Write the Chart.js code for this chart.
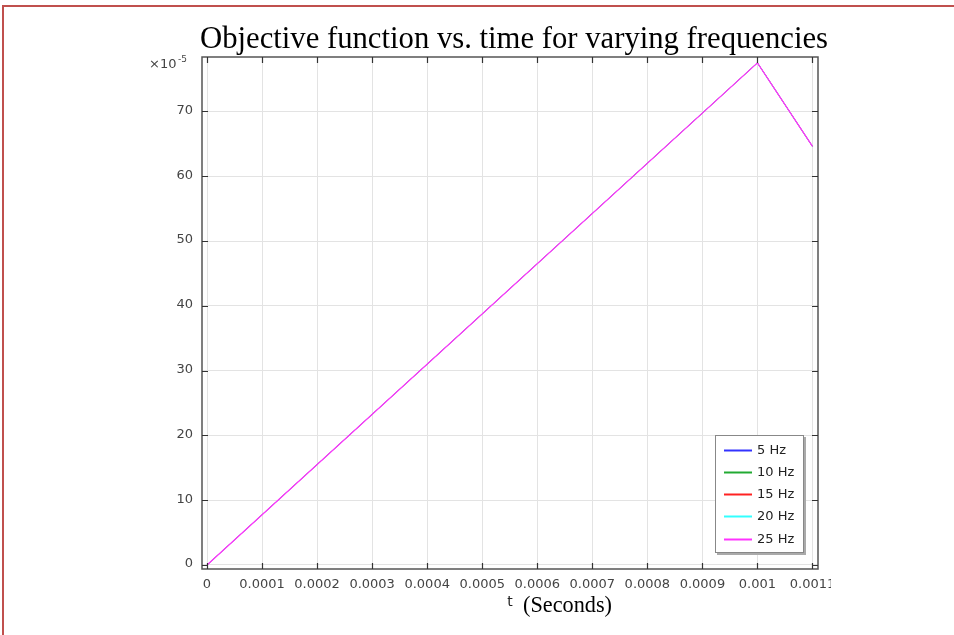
<!DOCTYPE html>
<html>
<head>
<meta charset="utf-8">
<script src="https://cdn.jsdelivr.net/npm/chart.js@4/dist/chart.umd.min.js"></script>
<style>
  html, body { margin: 0; padding: 0; background: #fff; }
  #wrap { position: relative; width: 954px; height: 635px; overflow: hidden; }
  #frame { position: absolute; left: 2px; top: 5px; width: 1200px; height: 1200px; border: 2px solid #C0504D; box-sizing: border-box; }
  canvas { position: absolute; left: 0; top: 0; }
</style>
</head>
<body>
<div id="wrap">
  <div id="frame"></div>
  <canvas id="c" width="954" height="635"></canvas>
</div>
<script>
// ---- data (values in units of 1e-5) ----
const times = [0, 0.001, 0.0011];
const f5Hz  = [0, 77.5, 64.6];
const f10Hz = [0, 77.5, 64.6];
const f15Hz = [0, 77.5, 64.6];
const f20Hz = [0, 77.5, 64.6];
const f25Hz = [0, 77.5, 64.6];
const seriesLabels = ['5 Hz', '10 Hz', '15 Hz', '20 Hz', '25 Hz'];
const seriesColors = ['#3333ff', '#22aa33', '#ff2222', '#33ffff', '#ff33ff'];
const xTicks = [0, 0.0001, 0.0002, 0.0003, 0.0004, 0.0005, 0.0006, 0.0007, 0.0008, 0.0009, 0.001, 0.0011];
const yTicks = [0, 10, 20, 30, 40, 50, 60, 70];
const titleText = 'Objective function vs. time for varying frequencies';

const seriesValues = [f5Hz, f10Hz, f15Hz, f20Hz, f25Hz];
const lastIdx = seriesValues.length - 1;
const datasets = seriesValues.map((vals, i) => ({
  label: seriesLabels[i],
  data: times.map((t, j) => ({ x: t, y: vals[j] })),
  borderColor: seriesColors[i],
  backgroundColor: seriesColors[i],
  borderWidth: i === lastIdx ? 1.2 : 0.5,
  pointRadius: 0,
  tension: 0,
  fill: false,
  order: lastIdx - i
}));

const TICK_FONT = '13px "DejaVu Sans"';
const TICK_COLOR = '#444';

function fitFont(ctx, text, family, width) {
  ctx.font = '40px ' + family;
  const w = ctx.measureText(text).width;
  return (40 * width / w).toFixed(2) + 'px ' + family;
}

const decor = {
  id: 'decor',
  afterDraw(chart) {
    const ctx = chart.ctx;
    const a = chart.chartArea;
    const xs = chart.scales.x, ys = chart.scales.y;
    ctx.save();
    // frame
    ctx.strokeStyle = '#555';
    ctx.lineWidth = 1.5;
    ctx.strokeRect(a.left, a.top, a.right - a.left, a.bottom - a.top);
    // inside ticks, mirrored
    ctx.lineWidth = 1.2;
    ctx.strokeStyle = '#333';
    ctx.beginPath();
    xTicks.forEach(v => {
      const px = Math.round(xs.getPixelForValue(v)) + 0.5;
      if (px < a.left - 1 || px > a.right + 1) return;
      ctx.moveTo(px, a.bottom); ctx.lineTo(px, a.bottom - 6);
      ctx.moveTo(px, a.top); ctx.lineTo(px, a.top + 6);
    });
    yTicks.forEach(v => {
      const py = Math.round(ys.getPixelForValue(v)) + 0.5;
      ctx.moveTo(a.left, py); ctx.lineTo(a.left + 6, py);
      ctx.moveTo(a.right, py); ctx.lineTo(a.right - 6, py);
    });
    ctx.stroke();

    // y tick labels
    ctx.fillStyle = TICK_COLOR;
    ctx.font = TICK_FONT;
    ctx.textAlign = 'right';
    ctx.textBaseline = 'middle';
    yTicks.forEach(v => {
      ctx.fillText(String(v), a.left - 9, ys.getPixelForValue(v) - 1);
    });
    // x tick labels
    ctx.textAlign = 'center';
    ctx.textBaseline = 'top';
    ctx.save();
    ctx.beginPath();
    ctx.rect(0, 0, 831, 635);
    ctx.clip();
    xTicks.forEach(v => {
      ctx.fillText(String(v), xs.getPixelForValue(v), a.bottom + 9);
    });
    ctx.restore();

    // multiplier label
    ctx.textAlign = 'left';
    ctx.textBaseline = 'alphabetic';
    ctx.font = '13px "DejaVu Sans"';
    ctx.fillText('\u00d710', 149, 68);
    ctx.font = '9px "DejaVu Sans"';
    ctx.fillText('-5', 178, 62);

    // title
    ctx.fillStyle = '#000';
    ctx.font = fitFont(ctx, titleText, '"Liberation Serif"', 628);
    ctx.textAlign = 'left';
    ctx.textBaseline = 'alphabetic';
    ctx.fillText(titleText, 200, 48);

    // x axis title
    ctx.font = '14px "DejaVu Sans"';
    ctx.fillStyle = '#222';
    ctx.textAlign = 'center';
    ctx.fillText('t', 510, 606);
    ctx.font = fitFont(ctx, '(Seconds)', '"Liberation Serif"', 89);
    ctx.fillStyle = '#000';
    ctx.textAlign = 'left';
    ctx.fillText('(Seconds)', 523, 612);

    // legend
    const lx = 715, ly = 435, lw = 89, lh = 118;
    ctx.fillStyle = '#aaa';
    ctx.fillRect(lx + 2, ly + 2, lw, lh);
    ctx.fillStyle = '#fff';
    ctx.fillRect(lx, ly, lw, lh);
    ctx.strokeStyle = '#888';
    ctx.lineWidth = 1;
    ctx.strokeRect(lx + 0.5, ly + 0.5, lw - 1, lh - 1);
    const rowY = [450, 472, 494, 516, 539];
    chart.data.datasets.forEach((ds, i) => {
      const y = rowY[i];
      ctx.strokeStyle = ds.borderColor;
      ctx.lineWidth = 2;
      ctx.beginPath();
      ctx.moveTo(724, y + 0.5); ctx.lineTo(752, y + 0.5);
      ctx.stroke();
      ctx.fillStyle = '#222';
      ctx.font = '13px "DejaVu Sans"';
      ctx.textAlign = 'left';
      ctx.textBaseline = 'middle';
      ctx.fillText(ds.label, 757, y + 1);
    });
    ctx.restore();
  }
};

new Chart(document.getElementById('c'), {
  type: 'line',
  data: { datasets },
  plugins: [decor],
  options: {
    responsive: false,
    animation: false,
    layout: { padding: { left: 0, right: 136, top: 57, bottom: 0 } },
    plugins: { legend: { display: false }, title: { display: false }, tooltip: { enabled: false } },
    scales: {
      x: {
        type: 'linear',
        min: -0.0000091,
        max: 0.00111,
        afterFit(s) { s.height = 66; },
        afterBuildTicks(s) { s.ticks = xTicks.map(v => ({ value: v })); },
        ticks: { display: false },
        grid: { color: '#e3e3e3', lineWidth: 1, drawTicks: false },
        border: { display: false }
      },
      y: {
        type: 'linear',
        min: -0.62,
        max: 78.4,
        afterFit(s) { s.width = 202; },
        afterBuildTicks(s) { s.ticks = yTicks.map(v => ({ value: v })); },
        ticks: { display: false },
        grid: { color: '#e3e3e3', lineWidth: 1, drawTicks: false },
        border: { display: false }
      }
    }
  }
});
</script>
</body>
</html>
